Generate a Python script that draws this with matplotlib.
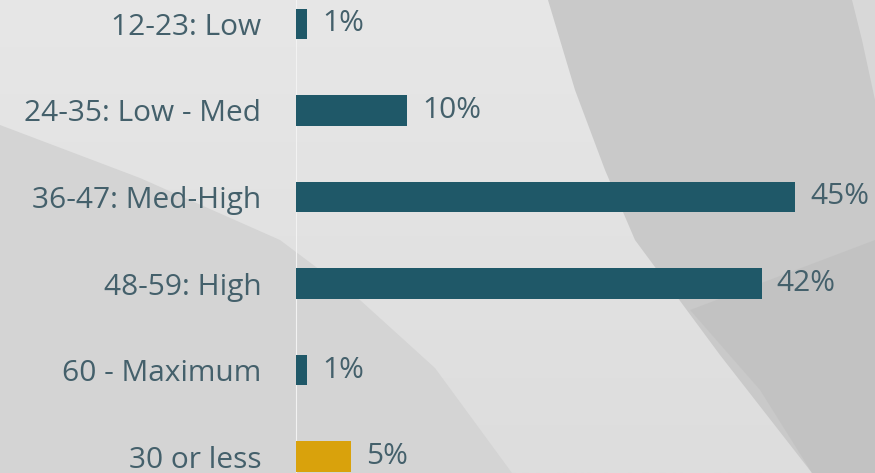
import numpy as np
import matplotlib
matplotlib.use('Agg')
import matplotlib.pyplot as plt
from matplotlib.patches import Polygon

categories = ['12-23: Low', '24-35: Low - Med', '36-47: Med-High', '48-59: High',
              '60 - Maximum', '30 or less']
shares = [1, 10, 45, 42, 1, 5]
value_labels = ['1%', '10%', '45%', '42%', '1%', '5%']
colors = ['#1f5868'] * 5 + ['#d9a20c']

text_color = '#44606b'
plt.rcParams['font.family'] = ['Open Sans', 'DejaVu Sans']

fig = plt.figure(figsize=(8.75, 4.73), dpi=100)

# backdrop with the slide's grey swooshes, in pixel coordinates
bg = fig.add_axes([0, 0, 1, 1])
bg.set_xlim(0, 875)
bg.set_ylim(473, 0)
bg.axis('off')
grad = np.linspace(0, 1, 256).reshape(-1, 1)
bg.imshow(grad, extent=(0, 875, 473, 0), cmap=matplotlib.colors.LinearSegmentedColormap.from_list(
    'g', ['#e7e7e7', '#dddddd']), aspect='auto', zorder=0)
# darker lower-left sweep
bg.add_patch(Polygon([(0, 125), (140, 178), (280, 240), (360, 300), (435, 368), (512, 473), (0, 473)],
                     closed=True, facecolor='#d4d4d4', edgecolor='none', zorder=1))
# darker right-hand region
bg.add_patch(Polygon([(548, 0), (575, 90), (605, 170), (635, 240), (720, 355), (812, 473), (875, 473), (875, 0)],
                     closed=True, facecolor='#c9c9c9', edgecolor='none', zorder=1))
bg.add_patch(Polygon([(690, 310), (760, 390), (812, 473), (875, 473), (875, 240)],
                     closed=True, facecolor='#c1c1c1', edgecolor='none', alpha=0.8, zorder=1))
# thin light arc at the top-right corner
bg.add_patch(Polygon([(852, 0), (862, 40), (875, 100), (875, 0)],
                     closed=True, facecolor='#d8d8d8', edgecolor='none', zorder=1))

ax = fig.add_axes([296 / 875, 0, 579 / 875, 1])
ax.patch.set_alpha(0)
ypos = np.arange(len(categories))
ax.barh(ypos, shares, height=0.35, color=colors, zorder=3)
ax.set_xlim(0, 579 / 11.09)
ax.set_ylim((473 - 24) / 86.5, -24 / 86.5)

for y, v, lab in zip(ypos, shares, value_labels):
    ax.text(v + 1.35, y, lab, va='center', ha='left', fontsize=21.5, color=text_color)

ax.set_yticks(ypos)
ax.set_yticklabels(categories, fontsize=21.5, color=text_color)
ax.tick_params(axis='y', length=0, pad=25)
ax.set_xticks([])
for side in ['top', 'right', 'bottom']:
    ax.spines[side].set_visible(False)
ax.spines['left'].set_color('#f2f2f2')
ax.spines['left'].set_linewidth(0.8)

fig.savefig('out.png', dpi=100)
